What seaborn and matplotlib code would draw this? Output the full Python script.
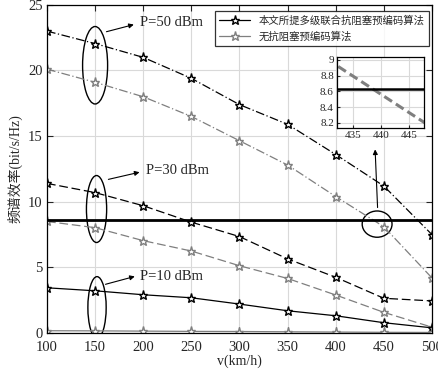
import numpy as np
import pandas as pd
import matplotlib
matplotlib.use("Agg")
import matplotlib.pyplot as plt
import seaborn as sns
from matplotlib.lines import Line2D
from matplotlib.patches import Ellipse

sns.set_style("ticks")
plt.rcParams["font.family"] = ["Liberation Serif", "Noto Sans CJK SC", "DejaVu Sans"]

# speeds (km/h)
v = [100, 150, 200, 250, 300, 350, 400, 450, 500]

# proposed multi-level anti-jamming precoding
prop_50 = [23.0, 22.05, 21.0, 19.4, 17.4, 15.9, 13.6, 11.2, 7.5]
prop_30 = [11.4, 10.7, 9.7, 8.45, 7.35, 5.65, 4.25, 2.65, 2.45]
prop_10 = [3.45, 3.22, 2.92, 2.69, 2.21, 1.70, 1.32, 0.79, 0.40]
# no anti-jamming precoding
base_50 = [20.1, 19.1, 18.0, 16.5, 14.65, 12.8, 10.4, 8.1, 4.2]
base_30 = [8.5, 8.03, 7.04, 6.25, 5.13, 4.16, 2.9, 1.58, 0.45]
base_10 = [0.18, 0.17, 0.15, 0.13, 0.12, 0.10, 0.08, 0.06, 0.05]

threshold = 8.63

legend_labels = ["本文所提多级联合抗阻塞预编码算法", "无抗阻塞预编码算法"]

GRAY = "#7f7f7f"
fig = plt.figure(figsize=(4.39, 3.73), dpi=100)
ax = fig.add_axes([0.107, 0.107, 0.877, 0.88])

series = [
    (prop_50, "k", (0, (7, 2, 1, 2))),
    (base_50, GRAY, (0, (7, 2, 1, 2))),
    (prop_30, "k", (0, (7, 3))),
    (base_30, GRAY, (0, (7, 3))),
    (prop_10, "k", "-"),
    (base_10, GRAY, "-"),
]
for vals, c, ls in series:
    sns.lineplot(x=v, y=vals, ax=ax, color=c, linestyle=ls, linewidth=0.9,
                 marker="*", markersize=6.5, markerfacecolor="white",
                 markeredgecolor=c, markeredgewidth=1.0)

ax.axhline(threshold, color="k", linewidth=2.0)

ax.set_xlim(100, 500)
ax.set_ylim(0, 25)
ax.set_xticks(range(100, 501, 50))
ax.set_yticks(range(0, 26, 5))
ax.grid(True, color="#d9d9d9", linewidth=0.8)
ax.tick_params(direction="in", top=True, right=True, labelsize=10.5, length=4)
ax.tick_params(axis="x", pad=6)
ax.tick_params(axis="y", pad=3)
for s in ax.spines.values():
    s.set_color("k")
    s.set_linewidth(0.9)
ax.set_xlabel("v(km/h)", fontsize=10, labelpad=0)
ax.set_ylabel("频谱效率(bit/s/Hz)", fontsize=10, labelpad=4)

# ellipses and labels
ell_kw = dict(fill=False, edgecolor="k", linewidth=1.0)
ax.add_patch(Ellipse((150, 20.4), 26, 5.9, **ell_kw))
ax.add_patch(Ellipse((151.5, 9.45), 21, 5.1, **ell_kw))
ax.add_patch(Ellipse((152, 1.95), 19, 4.7, **ell_kw))
ax.add_patch(Ellipse((443, 8.3), 31, 2.0, **ell_kw))

arrow = dict(arrowstyle="-|>", color="k", linewidth=0.8, mutation_scale=7)
ax.annotate("", xy=(193, 23.55), xytext=(159, 22.9), arrowprops=arrow)
ax.text(197, 23.65, "P=50 dBm", fontsize=10.5, va="center")
ax.annotate("", xy=(199, 12.3), xytext=(161, 11.66), arrowprops=arrow)
ax.text(203, 12.35, "P=30 dBm", fontsize=10.5, va="center")
ax.annotate("", xy=(194, 4.37), xytext=(158, 3.66), arrowprops=arrow)
ax.text(197, 4.3, "P=10 dBm", fontsize=10.5, va="center")
ax.annotate("", xy=(440.8, 14.2), xytext=(443.6, 9.35), arrowprops=arrow)

handles = [
    Line2D([], [], color="k", linewidth=0.9, marker="*", markersize=6.5,
           markerfacecolor="white", markeredgecolor="k"),
    Line2D([], [], color=GRAY, linewidth=0.9, marker="*", markersize=6.5,
           markerfacecolor="white", markeredgecolor=GRAY),
]
leg = ax.legend(handles, legend_labels, loc="upper right",
                bbox_to_anchor=(1.0, 0.99), frameon=True,
                fancybox=False, borderaxespad=0.3, handlelength=3,
                prop={"family": ["Noto Sans CJK SC"], "size": 7.5})
leg.get_frame().set_edgecolor("k")
leg.get_frame().set_linewidth(0.9)

# inset zoom
ins = fig.add_axes([0.767, 0.656, 0.199, 0.192])
sns.lineplot(x=v, y=base_50, ax=ins, color=GRAY, linestyle=(0, (3, 1.5)),
             linewidth=2.2)
ins.axhline(threshold, color="k", linewidth=1.8)
ins.set_xlim(432, 447.7)
ins.set_ylim(8.13, 9.04)
ins.set_xticks([435, 440, 445])
ins.set_yticks([8.2, 8.4, 8.6, 8.8, 9.0])
ins.set_yticklabels(["8.2", "8.4", "8.6", "8.8", "9"])
ins.grid(True, color="#d9d9d9", linewidth=0.8)
ins.tick_params(direction="in", labelsize=8, length=2, pad=2)
for s in ins.spines.values():
    s.set_color("k")
    s.set_linewidth(0.9)
ins.set_facecolor("white")

fig.savefig("out.png", dpi=100)
